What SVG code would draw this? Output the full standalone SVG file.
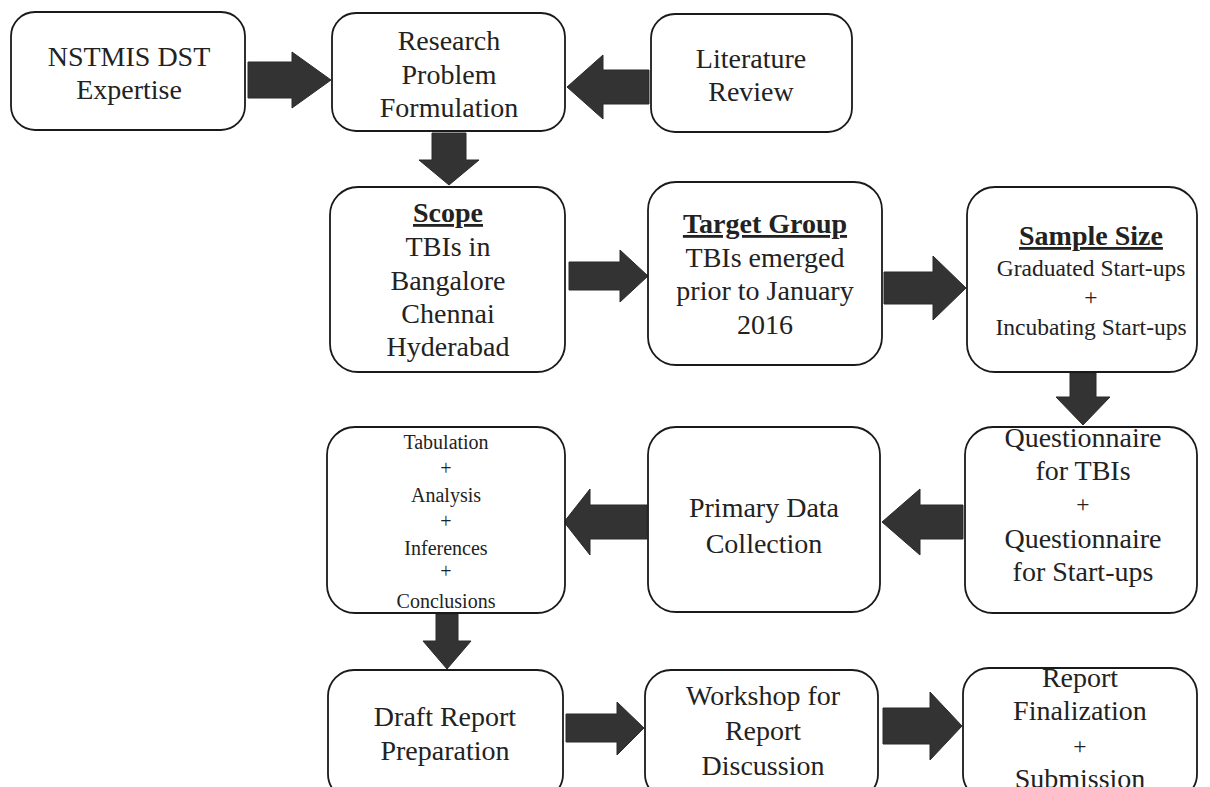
<svg xmlns="http://www.w3.org/2000/svg" width="1210" height="787" viewBox="0 0 1210 787">
<style>
.box{fill:#fff;stroke:#1a1a1a;stroke-width:1.8}
text{font-family:'Liberation Serif',serif;font-size:28px;fill:#222;text-anchor:middle}
.s{font-size:23.5px}
.xs{font-size:20px}
.h{font-weight:bold;text-decoration:underline}
.arr{fill:#333;stroke:#2a2a2a;stroke-width:1}
</style>
<rect width="1210" height="787" fill="#fff"/>
<g id="connectors">
<polygon class="arr" points="248,62 292,62 292,52 331,80 292,108 292,98 248,98"/>
<polygon class="arr" points="649,70 603,70 603,55 567,87 603,119 603,104 649,104"/>
<polygon class="arr" points="432,133 466,133 466,160 479,160 449,185 419,160 432,160"/>
<polygon class="arr" points="569,262 620,262 620,250 648,276 620,302 620,290 569,290"/>
<polygon class="arr" points="884,272 933,272 933,256 966,288 933,320 933,304 884,304"/>
<polygon class="arr" points="1070,373 1096,373 1096,397 1110,397 1083,425 1056,397 1070,397"/>
<polygon class="arr" points="963,505 920,505 920,489 882,522 920,555 920,539 963,539"/>
<polygon class="arr" points="647,505 590,505 590,489 564,522 590,555 590,539 647,539"/>
<polygon class="arr" points="436,614 458,614 458,641 471,641 447,669 423,641 436,641"/>
<polygon class="arr" points="566,714 617,714 617,702 644,728 617,755 617,742 566,742"/>
<polygon class="arr" points="883,708 930,708 930,692 962,726 930,760 930,744 883,744"/>
</g>
<g id="n1"><rect class="box" x="11" y="12" width="234" height="118" rx="24"/>
<text x="129" y="66">NSTMIS DST</text><text x="129" y="99">Expertise</text></g>
<g id="n2"><rect class="box" x="332" y="13" width="233" height="118" rx="24"/>
<text x="449" y="50">Research</text><text x="449" y="84">Problem</text><text x="449" y="117">Formulation</text></g>
<g id="n3"><rect class="box" x="651" y="14" width="201" height="118" rx="24"/>
<text x="751" y="68">Literature</text><text x="751" y="101">Review</text></g>
<g id="n4"><rect class="box" x="330" y="187" width="235" height="185" rx="28"/>
<text class="h" x="448" y="222">Scope</text><text x="448" y="256">TBIs in</text><text x="448" y="290">Bangalore</text><text x="448" y="323">Chennai</text><text x="448" y="356">Hyderabad</text></g>
<g id="n5"><rect class="box" x="648" y="182" width="234" height="183" rx="28"/>
<text class="h" x="765" y="233">Target Group</text><text x="765" y="267">TBIs emerged</text><text x="765" y="300">prior to January</text><text x="765" y="334">2016</text></g>
<g id="n6"><rect class="box" x="967" y="187" width="230" height="185" rx="28"/>
<text class="h" x="1091" y="245">Sample Size</text><text class="s" x="1091" y="276">Graduated Start-ups</text><text class="s" x="1091" y="305">+</text><text class="s" x="1091" y="335">Incubating Start-ups</text></g>
<g id="n7"><rect class="box" x="965" y="427" width="232" height="186" rx="28"/>
<text x="1083" y="447">Questionnaire</text><text x="1083" y="480">for TBIs</text><text class="s" x="1083" y="512">+</text><text x="1083" y="548">Questionnaire</text><text x="1083" y="581">for Start-ups</text></g>
<g id="n8"><rect class="box" x="648" y="427" width="232" height="185" rx="28"/>
<text x="764" y="517">Primary Data</text><text x="764" y="553">Collection</text></g>
<g id="n9"><rect class="box" x="327" y="427" width="238" height="186" rx="28"/>
<text class="xs" x="446" y="449">Tabulation</text><text class="xs" x="446" y="475">+</text><text class="xs" x="446" y="502">Analysis</text><text class="xs" x="446" y="528">+</text><text class="xs" x="446" y="555">Inferences</text><text class="xs" x="446" y="578">+</text><text class="xs" x="446" y="608">Conclusions</text></g>
<g id="n10"><rect class="box" x="328" y="670" width="235" height="130" rx="26"/>
<text x="445" y="726">Draft Report</text><text x="445" y="760">Preparation</text></g>
<g id="n11"><rect class="box" x="645" y="670" width="233" height="130" rx="26"/>
<text x="763" y="705">Workshop for</text><text x="763" y="740">Report</text><text x="763" y="775">Discussion</text></g>
<g id="n12"><rect class="box" x="963" y="668" width="234" height="132" rx="26"/>
<text x="1080" y="687">Report</text><text x="1080" y="720">Finalization</text><text class="s" x="1080" y="754">+</text><text x="1080" y="788">Submission</text></g>
</svg>
